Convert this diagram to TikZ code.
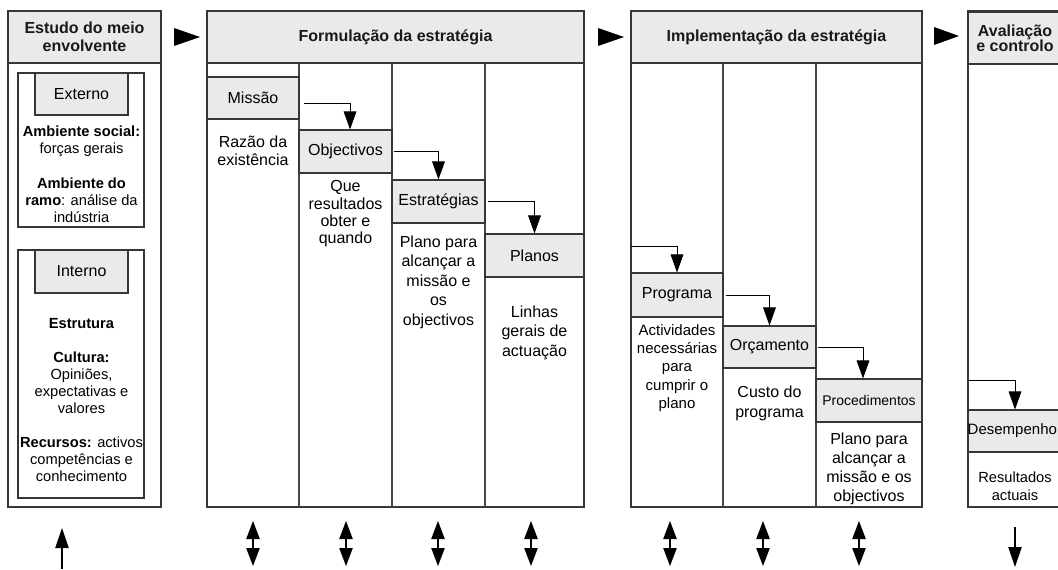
\documentclass[tikz,border=0pt]{standalone}
\usepackage{fontspec}
\setmainfont{Liberation Sans}
\usetikzlibrary{arrows.meta,calc}
\definecolor{boxfill}{RGB}{234,234,234}
\definecolor{framecol}{RGB}{55,55,55}
\definecolor{sepcol}{RGB}{70,70,70}
\definecolor{headtext}{RGB}{25,25,25}

\begin{document}
\begin{tikzpicture}[x=0.75pt,y=-0.75pt,
  frame/.style={draw=framecol, line width=0.9pt},
  sepline/.style={draw=sepcol, line width=0.8pt},
  head/.style={draw=framecol, line width=0.9pt, fill=boxfill, inner sep=0pt,
    minimum height=39pt, align=center, text=headtext,
    font=\bfseries\fontsize{12}{13.5}\selectfont},
  stage/.style={draw=framecol, line width=0.8pt, fill=boxfill, inner sep=0pt,
    font=\fontsize{12}{14}\selectfont},
  body/.style={align=center, inner sep=0pt},
  conn/.style={-{Triangle[length=13.5pt,width=9.5pt]}, line width=0.75pt},
  flow/.style={{Triangle[length=13.5pt,width=10pt]}-{Triangle[length=13.5pt,width=10pt]}, line width=0.9pt},
  single/.style={-{Triangle[length=15pt,width=10pt]}, line width=0.9pt},
  between/.style={fill=black}
]
\useasboundingbox (0,0) rectangle (1058,569);
\fill[white] (0,0) rectangle (1058,569);
\clip (0,0) rectangle (1058,569);

% ---------- panel frames ----------
\draw[frame] (8,11) rectangle (161,507);
\draw[frame] (207,11) rectangle (584,507);
\draw[frame] (631,11) rectangle (922,507);
\draw[frame] (968,11) rectangle (1080,507);

% column separators
\foreach \x in {299,392,485} \draw[sepline] (\x,63) -- (\x,507);
\foreach \x in {723,816} \draw[sepline] (\x,63) -- (\x,507);

% ---------- headers ----------
\node[head, minimum width=114.75pt] (hEstudo) at (84.5,37) {Estudo do meio\\envolvente};
\node[head, minimum width=282.75pt] (hForm) at (395.5,37) {Formulação da estratégia};
\node[head, minimum width=218.25pt] (hImpl) at (776.5,37) {Implementação da estratégia};
\node[head, minimum width=70.5pt, font=\bfseries\fontsize{12}{11.5}\selectfont] (hAval) at (1015,38) {Avaliação\\e controlo};

% arrows between the stages
\fill[between] (174,28) -- (200,37) -- (174,46) -- cycle;
\fill[between] (598,28) -- (624,37) -- (598,46) -- cycle;
\fill[between] (934,27) -- (959,36) -- (934,45) -- cycle;

% ---------- environment scanning ----------
\draw[frame] (18,73) rectangle (144,227);
\draw[frame] (18,250) rectangle (144,498);
\node[stage, minimum width=69.75pt, minimum height=31.5pt] (externo) at (81.5,94) {Externo};
\node[stage, minimum width=69.75pt, minimum height=32.25pt] (interno) at (81.5,271.5) {Interno};

\node[body, font=\fontsize{11}{12.75}\selectfont] (ext1) at (81.5,141.5)
  {\textbf{Ambiente social:}\\forças gerais};
\node[body, font=\fontsize{11}{12.75}\selectfont] (ext2) at (81.5,200)
  {\textbf{Ambiente do}\\\textbf{ramo}: análise da\\indústria};
\node[body, font=\fontsize{11}{12.75}\selectfont] (int1) at (81.5,324)
  {\textbf{Estrutura}};
\node[body, font=\fontsize{11}{12.75}\selectfont] (int2) at (81.5,383)
  {\textbf{Cultura:}\\Opiniões,\\expectativas e\\valores};
\node[body, font=\fontsize{11}{12.75}\selectfont] (int3) at (81.5,459)
  {\textbf{Recursos:} activos\\competências e\\conhecimento};

% ---------- strategy formulation ----------
\node[stage, minimum width=69pt, minimum height=31.5pt] (missao) at (253,98) {Missão};
\node[stage, minimum width=69.75pt, minimum height=32.25pt] (objectivos) at (345.5,151.5) {Objectivos};
\node[stage, minimum width=69.75pt, minimum height=32.25pt] (estrategias) at (438.5,201.5) {Estratégias};
\node[stage, minimum width=74.25pt, minimum height=32.25pt] (planos) at (534.5,255.5) {Planos};

\node[body, font=\fontsize{12}{13.5}\selectfont] (tMissao) at (253,151) {Razão da\\existência};
\node[body, font=\fontsize{12}{13}\selectfont] (tObj) at (345.5,214) {Que\\resultados\\obter e\\quando};
\node[body, font=\fontsize{12}{14.6}\selectfont] (tEstr) at (438.5,282) {Plano para\\alcançar a\\missão e\\os\\objectivos};
\node[body, font=\fontsize{12}{14.6}\selectfont] (tPlanos) at (534.5,332.5) {Linhas\\gerais de\\actuação};

\draw[conn] ([xshift=3pt,yshift=-3.75pt]missao.east) -| ([xshift=3.4pt]objectivos.north);
\draw[conn] ([xshift=1pt]objectivos.east) -| (estrategias.north);
\draw[conn] ([xshift=2pt]estrategias.east) -| (planos.north);

% ---------- strategy implementation ----------
\node[stage, minimum width=69pt, minimum height=33pt] (programa) at (677,295) {Programa};
\node[stage, minimum width=69.75pt, minimum height=31.5pt] (orcamento) at (769.5,347) {Orçamento};
\node[stage, minimum width=79.5pt, minimum height=32.25pt, font=\fontsize{10.5}{12}\selectfont] (procedimentos) at (869,400.5) {Procedimentos};

\node[body, font=\fontsize{11.25}{13.7}\selectfont] (tProg) at (677,368) {Actividades\\necessárias\\para\\cumprir o\\plano};
\node[body, font=\fontsize{12}{15}\selectfont] (tOrc) at (769.5,403) {Custo do\\programa};
\node[body, font=\fontsize{12}{14.25}\selectfont] (tProc) at (869,468.5) {Plano para\\alcançar a\\missão e os\\objectivos};

\coordinate (progIn) at (631,246);
\draw[conn] (progIn) -| (programa.north);
\draw[conn] ([xshift=1.5pt]programa.east) -| (orcamento.north);
\draw[conn] ([xshift=1pt]orcamento.east) -| ([xshift=-4.5pt]procedimentos.north);

% ---------- evaluation and control ----------
\node[stage, minimum width=70.5pt, minimum height=31.5pt, font=\fontsize{11.25}{12}\selectfont] (desempenho) at (1015,431) {\hspace*{-4pt}Desempenho};
\node[body, font=\fontsize{11}{13.5}\selectfont] (tDes) at (1015,486) {Resultados\\actuais};
\coordinate (desIn) at (968,380);
\draw[conn] (desIn) -| (desempenho.north);

% ---------- feedback arrows along the bottom ----------
\coordinate (upFrom) at (62,569);
\coordinate (upTo) at (62,528);
\draw[single] (upFrom) -- (upTo);
\foreach \i/\x in {1/253,2/346,3/438,4/531,5/670,6/763,7/859}{
  \coordinate (fTop\i) at (\x,521);
  \coordinate (fBot\i) at (\x,566);
  \draw[flow] (fTop\i) -- (fBot\i);
}
\coordinate (downFrom) at (1015,527);
\coordinate (downTo) at (1015,567);
\draw[single] (downFrom) -- (downTo);
\end{tikzpicture}
\end{document}
